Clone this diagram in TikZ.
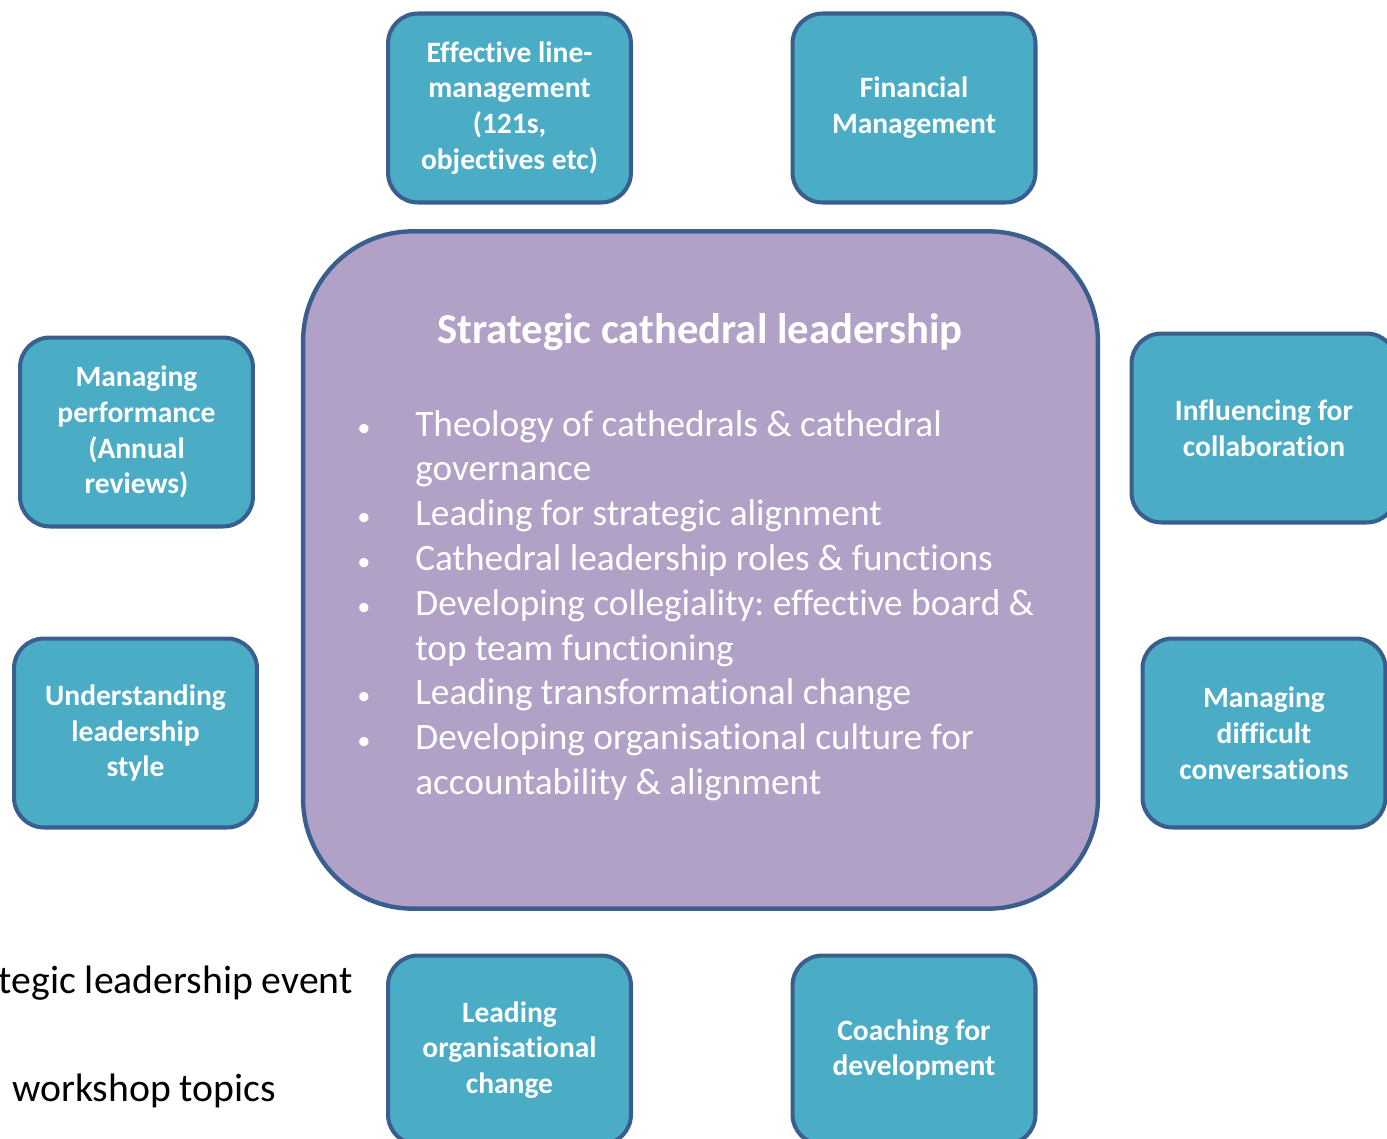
\documentclass[tikz,border=0pt]{standalone}
\usepackage{fontspec}
\setmainfont{Carlito}[Ligatures=NoCommon]
\usetikzlibrary{positioning}
\definecolor{boxteal}{HTML}{4BACC6}
\definecolor{boxedge}{HTML}{3A5F8E}
\definecolor{hubpurple}{HTML}{B2A1C7}
\newcommand{\dotmark}{{\fontsize{15}{15}\selectfont\textbullet}}
\frenchspacing

\begin{document}
\begin{tikzpicture}[x=0.02cm, y=-0.02cm,
  topic/.style={draw=boxedge, line width=2.3pt, fill=boxteal, rounded corners=0.6cm,
    minimum width=4.86cm, minimum height=3.78cm, text=white, align=center,
    font=\bfseries\fontsize{16.8}{20.4}\selectfont, inner sep=2pt}]

\useasboundingbox (0,0) rectangle (1387,1139);

\node[draw=boxedge, line width=2.5pt, fill=hubpurple, rounded corners=2.2cm,
  minimum width=15.9cm, minimum height=13.55cm] (hub) at (700.5,570) {};

\node[text=white, anchor=base, inner sep=0, font=\bfseries\fontsize{24.3}{28}\selectfont
] (title) at (700,343) {Strategic cathedral leadership};

\node[text=white, anchor=base west, inner sep=0, font=\fontsize{21.2}{25.5}\selectfont
] (bullets) at (357,436) {\begin{tabular}[t]{@{}p{1.16cm}@{}l@{}}
\dotmark & Theology of cathedrals \& cathedral\\
 & governance\\
\dotmark & Leading for strategic alignment\\
\dotmark & Cathedral leadership roles \& functions\\
\dotmark & Developing collegiality: effective board \&\\
 & top team functioning\\
\dotmark & Leading transformational change\\
\dotmark & Developing organisational culture for\\
 & accountability \& alignment
\end{tabular}};

\node[topic] (lineman) at (509.5,108) {Effective line-\\management\\(121s,\\objectives etc)};
\node[topic] (finance) at (914,108) {Financial\\Management};
\node[topic, minimum width=4.66cm] (perform) at (136.5,432) {Managing\\performance\\(Annual\\reviews)};
\node[topic] (lstyle) at (135.5,733) {Understanding\\leadership\\style};
\node[topic, minimum width=5.3cm] (influence) at (1264,428) {Influencing for\\collaboration};
\node[topic] (difficult) at (1264,733) {Managing\\difficult\\conversations};
\node[topic] (orgchange) at (509.5,1050) {Leading\\organisational\\change};
\node[topic] (coaching) at (914,1050) {Coaching for\\development};

\node[anchor=base east, inner sep=0, font=\fontsize{22.6}{27}\selectfont
] (eventlbl) at (353,993) {tegic leadership event};
\node[anchor=base west, inner sep=0, font=\fontsize{22.6}{27}\selectfont
] (topicslbl) at (12,1101) {workshop topics};

\end{tikzpicture}
\end{document}
